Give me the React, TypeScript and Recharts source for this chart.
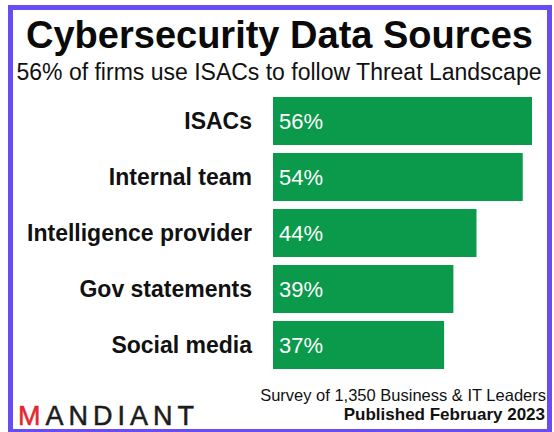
import React from "react";
import { BarChart, Bar, XAxis, YAxis, LabelList } from "recharts";

const categories = [
  "ISACs",
  "Internal team",
  "Intelligence provider",
  "Gov statements",
  "Social media",
];
const shares = [56, 54, 44, 39, 37];

const FONT = '"Liberation Sans", Arial, Helvetica, sans-serif';
const GREEN = "#0b9a4b";
const PURPLE = "#6a4cf4";

export default function App() {
  const data = categories.map((name, i) => ({ name, share: shares[i] }));

  return (
    <div
      style={{
        position: "absolute",
        left: 0,
        top: 0,
        width: 554,
        height: 432,
        overflow: "hidden",
        background: "#fff",
        fontFamily: FONT,
      }}
    >
      {/* headings and footer */}
      <svg
        width={554}
        height={432}
        style={{ position: "absolute", left: 0, top: 0 }}
      >
        <text
          x={279.5}
          y={48}
          textAnchor="middle"
          fontSize={38}
          fontWeight="bold"
          fill="#0a0a0a"
        >
          Cybersecurity Data Sources
        </text>
        <text x={279} y={80} textAnchor="middle" fontSize={23} fill="#111">
          56% of firms use ISACs to follow Threat Landscape
        </text>
        <text x={546} y={401} textAnchor="end" fontSize={16.5} fill="#111">
          Survey of 1,350 Business &amp; IT Leaders
        </text>
        <text
          x={545}
          y={420}
          textAnchor="end"
          fontSize={17}
          fontWeight="bold"
          fill="#111"
        >
          Published February 2023
        </text>
        <text
          x={18}
          y={425}
          fontSize={27}
          letterSpacing={5}
          fill="#1c1c1c"
          stroke="#1c1c1c"
          strokeWidth={0.5}
        >
          <tspan fill="#e3262f" stroke="#e3262f">M</tspan>ANDIANT
        </text>
      </svg>

      <div style={{ position: "absolute", left: 0, top: 0 }}>
        <BarChart
          width={554}
          height={432}
          data={data}
          layout="vertical"
          margin={{ top: 93, right: 22, bottom: 59, left: 0 }}
        >
          <XAxis type="number" domain={[0, 56]} hide />
          <YAxis
            type="category"
            dataKey="name"
            width={273}
            axisLine={false}
            tickLine={false}
            tickSize={0}
            tickMargin={21}
            interval={0}
            tick={{ fontSize: 23, fontWeight: "bold", fill: "#111" }}
          />
          <Bar dataKey="share" fill={GREEN} barSize={48} isAnimationActive={false}>
            <LabelList
              dataKey="share"
              position="insideLeft"
              offset={6}
              formatter={(v: number) => `${v}%`}
              fill="#fff"
              fontSize={22}
            />
          </Bar>
        </BarChart>
      </div>

      <div
        style={{
          position: "absolute",
          left: 8,
          top: 5,
          width: 544,
          height: 429,
          boxSizing: "border-box",
          border: `5px solid ${PURPLE}`,
          pointerEvents: "none",
        }}
      />
    </div>
  );
}
